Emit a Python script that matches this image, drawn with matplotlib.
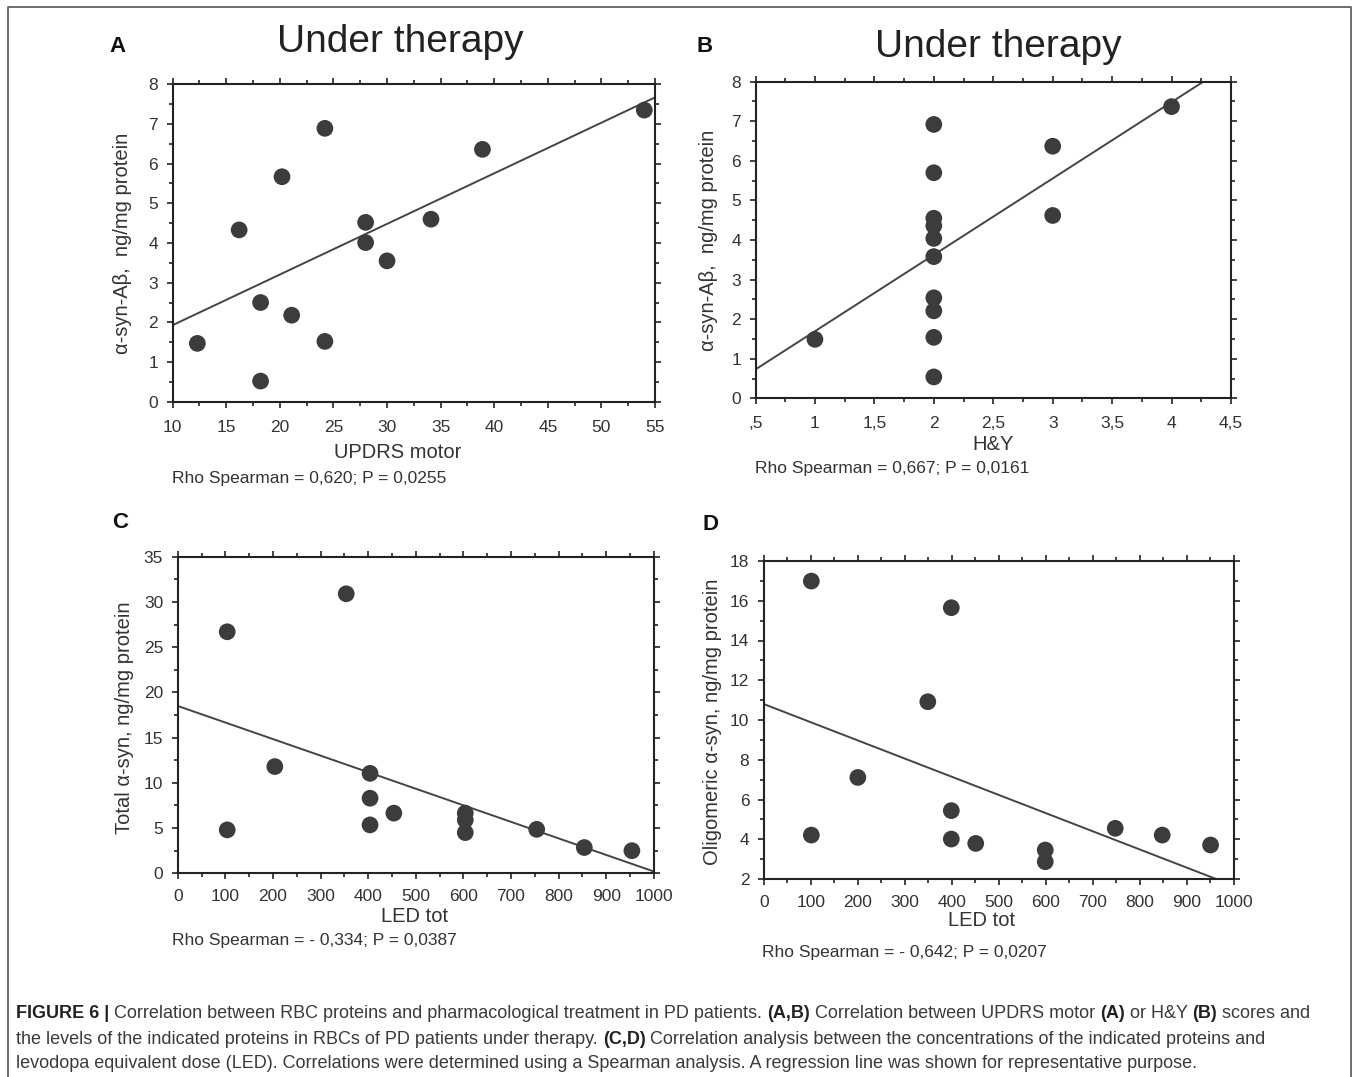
import matplotlib
matplotlib.use("Agg")
import matplotlib.pyplot as plt
from matplotlib.ticker import MultipleLocator, FixedLocator, FixedFormatter
import numpy as np

# ---------------- data ----------------
a_x = [12.3, 16.2, 18.2, 18.2, 20.2, 21.1, 24.2, 24.2, 28.0, 28.0, 30.0, 34.1, 38.9, 54.0]
a_y = [1.47, 4.33, 2.50, 0.52, 5.67, 2.18, 6.89, 1.52, 4.52, 4.01, 3.55, 4.60, 6.36, 7.35]
a_fit_x = [10, 55]
a_fit_y = [1.93, 7.67]

b_x = [1, 2, 2, 2, 2, 2, 2, 2, 2, 2, 2, 3, 3, 4]
b_y = [1.49, 6.92, 5.70, 4.55, 4.36, 4.04, 3.58, 2.54, 2.21, 1.54, 0.54, 6.37, 4.62, 7.37]
b_fit_x = [0.5, 4.5]
b_fit_y = [0.73, 8.45]
b_ticks = [0.5, 1, 1.5, 2, 2.5, 3, 3.5, 4, 4.5]
b_ticklabels = [",5", "1", "1,5", "2", "2,5", "3", "3,5", "4", "4,5"]

c_x = [104, 104, 204, 354, 404, 404, 404, 454, 604, 604, 604, 754, 854, 954]
c_y = [26.7, 4.8, 11.8, 30.9, 11.05, 8.3, 5.35, 6.65, 6.65, 5.9, 4.5, 4.86, 2.85, 2.5]
c_fit_x = [0, 1000]
c_fit_y = [18.5, 0.2]

d_x = [101, 101, 200, 349, 399, 399, 399, 451, 599, 599, 748, 848, 951]
d_y = [16.99, 4.21, 7.11, 10.92, 15.65, 5.44, 4.01, 3.79, 3.46, 2.87, 4.55, 4.21, 3.71]
d_fit_x = [0, 1000]
d_fit_y = [10.8, 1.66]

# ---------------- style ----------------
W, H = 1354, 1077
plt.rcParams['font.family'] = ['Liberation Sans', 'DejaVu Sans']
TXT = '#333333'
DOT = '#3c3c3c'
SP = '#222222'

fig = plt.figure(figsize=(W / 100, H / 100), dpi=100)


def fx(x):
    return x / W


def fy(y):
    return 1 - y / H


def make_ax(l, r, t, b):
    return fig.add_axes([fx(l), fy(b), (r - l) / W, (b - t) / H])


def style(ax, xmaj, xmin, ymaj, ymin, xpad=9):
    ax.xaxis.set_major_locator(MultipleLocator(xmaj) if not isinstance(xmaj, list) else FixedLocator(xmaj))
    ax.xaxis.set_minor_locator(MultipleLocator(xmin))
    ax.yaxis.set_major_locator(MultipleLocator(ymaj))
    ax.yaxis.set_minor_locator(MultipleLocator(ymin))
    for s in ax.spines.values():
        s.set_linewidth(1.5)
        s.set_color(SP)
    ax.tick_params(which='both', direction='out', top=True, right=True,
                   labeltop=False, labelright=False, color=SP, width=1.2)
    ax.tick_params(which='major', length=4.5, labelsize=12.5, labelcolor=TXT)
    ax.tick_params(which='minor', length=3)
    ax.tick_params(axis='x', which='major', pad=xpad)
    ax.tick_params(axis='y', which='major', pad=6)


def draw(ax, x, y, fxs, fys):
    ax.plot(fxs, fys, color='#444444', lw=1.4, zorder=2)
    ax.scatter(x, y, s=145, color=DOT, edgecolors='none', zorder=3)


# Panel A
axA = make_ax(172.7, 655, 84.3, 401.7)
draw(axA, a_x, a_y, a_fit_x, a_fit_y)
axA.set_xlim(10, 55)
axA.set_ylim(0, 8)
style(axA, 5, 2.5, 1, 0.5)

# Panel B
axB = make_ax(755.5, 1231, 81.7, 398.3)
draw(axB, b_x, b_y, b_fit_x, b_fit_y)
axB.set_xlim(0.5, 4.5)
axB.set_ylim(0, 8)
style(axB, b_ticks, 0.25, 1, 0.5, xpad=8)
axB.xaxis.set_major_formatter(FixedFormatter(b_ticklabels))

# Panel C
axC = make_ax(177.7, 653.8, 556.7, 873.3)
draw(axC, c_x, c_y, c_fit_x, c_fit_y)
axC.set_xlim(0, 1000)
axC.set_ylim(0, 35)
style(axC, 100, 50, 5, 2.5, xpad=7)

# Panel D
axD = make_ax(763.9, 1233.6, 561, 879)
draw(axD, d_x, d_y, d_fit_x, d_fit_y)
axD.set_xlim(0, 1000)
axD.set_ylim(2, 18)
style(axD, 100, 50, 2, 1, xpad=7)

# ---------------- texts ----------------
def t(x, y, s, **kw):
    kw.setdefault('color', TXT)
    fig.text(fx(x), fy(y), s, **kw)

# panel letters
for (x, y, s) in [(118, 47, 'A'), (705, 47, 'B'), (120, 523, 'C'), (711, 525, 'D')]:
    t(x, y, s, fontsize=16, fontweight='bold', ha='center', va='center', color='#111111')

# titles
t(400, 42, 'Under therapy', fontsize=28, ha='center', va='center', color='#222222')
t(998, 47, 'Under therapy', fontsize=28, ha='center', va='center', color='#222222')

# x labels
t(398, 452, 'UPDRS motor', fontsize=14.5, ha='center', va='center')
t(993, 444, 'H&Y', fontsize=14.5, ha='center', va='center')
t(415, 916, 'LED tot', fontsize=14.5, ha='center', va='center')
t(982, 920, 'LED tot', fontsize=14.5, ha='center', va='center')

# y labels
t(123, 243, 'α-syn-Aβ,  ng/mg protein', fontsize=14.5, rotation=90, ha='center', va='center')
t(708, 240, 'α-syn-Aβ,  ng/mg protein', fontsize=14.5, rotation=90, ha='center', va='center')
t(125, 718, 'Total α-syn, ng/mg protein', fontsize=14.5, rotation=90, ha='center', va='center')
t(713, 722, 'Oligomeric α-syn, ng/mg protein', fontsize=14.5, rotation=90, ha='center', va='center')

# statistics
t(172, 478, 'Rho Spearman = 0,620; P = 0,0255', fontsize=12.5, ha='left', va='center')
t(755, 469, 'Rho Spearman = 0,667; P = 0,0161', fontsize=12.5, ha='left', va='center')
t(172, 941, 'Rho Spearman = - 0,334; P = 0,0387', fontsize=12.5, ha='left', va='center')
t(762, 952, 'Rho Spearman = - 0,642; P = 0,0207', fontsize=12.5, ha='left', va='center')

# border (left, top, right)
fig.add_artist(plt.Line2D([fx(7.5), fx(7.5), fx(1351), fx(1351)],
                          [0, fy(7), fy(7), 0], color='#555555', lw=1.2,
                          transform=fig.transFigure))

# caption with mixed bold segments
caption = [
    [("FIGURE 6 |", True), (" Correlation between RBC proteins and pharmacological treatment in PD patients. ", False),
     ("(A,B)", True), (" Correlation between UPDRS motor ", False), ("(A)", True), (" or H&Y ", False),
     ("(B)", True), (" scores and", False)],
    [("the levels of the indicated proteins in RBCs of PD patients under therapy. ", False), ("(C,D)", True),
     (" Correlation analysis between the concentrations of the indicated proteins and", False)],
    [("levodopa equivalent dose (LED). Correlations were determined using a Spearman analysis. "
      "A regression line was shown for representative purpose.", False)],
]
cap_y = [1013, 1039, 1064]
fig.canvas.draw()
renderer = fig.canvas.get_renderer()
for line, yy in zip(caption, cap_y):
    x = 16.0
    for seg, bold in line:
        txt = fig.text(fx(x), fy(yy), seg, fontsize=13.0, ha='left', va='center',
                       fontweight='bold' if bold else 'normal',
                       color='#222222' if bold else '#3a3a3a')
        bb = txt.get_window_extent(renderer=renderer)
        x += bb.width

fig.savefig('out.png', dpi=100)
